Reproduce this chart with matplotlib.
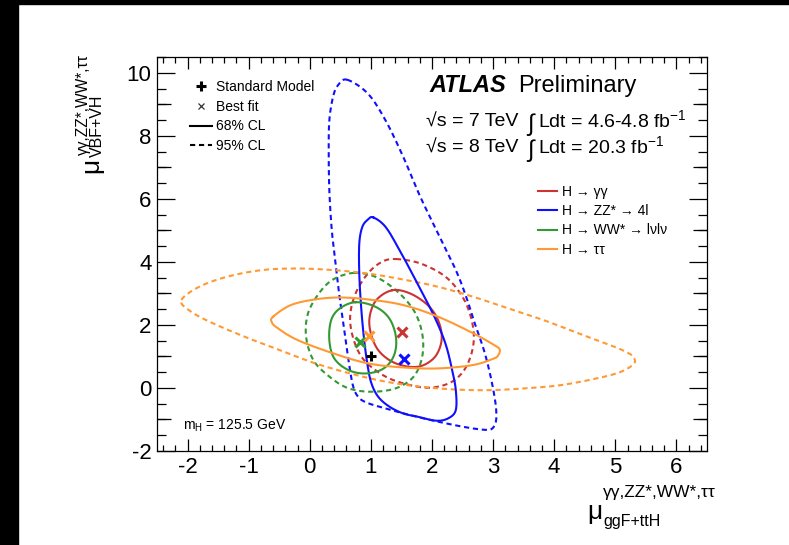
import numpy as np
import matplotlib
matplotlib.use("Agg")
import matplotlib.pyplot as plt
from matplotlib.lines import Line2D
from matplotlib.patches import Rectangle
from matplotlib.ticker import MultipleLocator, FixedLocator, NullLocator

plt.rcParams["font.family"] = ["Liberation Sans", "DejaVu Sans"]
plt.rcParams["mathtext.fontset"] = "custom"
plt.rcParams["mathtext.rm"] = "Liberation Sans"
plt.rcParams["mathtext.it"] = "Liberation Sans:italic"
plt.rcParams["mathtext.bf"] = "Liberation Sans:bold"
plt.rcParams["axes.unicode_minus"] = False

# Contours (mu_ggF+ttH, mu_VBF+VH)
# H -> gamma gamma
gg68_x = [1.35, 1.64, 1.93, 2.10, 2.16, 2.07, 1.87, 1.64, 1.35, 1.12, 1.00, 0.98, 1.09, 1.35]
gg68_y = [3.10, 3.00, 2.63, 2.15, 1.57, 1.04, 0.73, 0.67, 0.83, 1.20, 1.73, 2.26, 2.79, 3.10]
gg95_x = [1.41, 1.81, 2.22, 2.50, 2.65, 2.68, 2.56, 2.33, 1.99, 1.64, 1.24, 0.89, 0.72, 0.66,
          0.75, 0.95, 1.18, 1.41]
gg95_y = [4.09, 3.95, 3.53, 2.89, 2.15, 1.41, 0.67, 0.20, 0.01, 0.09, 0.36, 0.88, 1.52, 2.26,
          3.00, 3.63, 4.00, 4.09]

# H -> ZZ* -> 4l
zz68_x = [1.04, 1.24, 1.47, 1.76, 2.04, 2.22, 2.33, 2.39, 2.39, 2.27, 2.07, 1.76, 1.53, 1.30,
          1.12, 1.01, 0.95, 0.89, 0.84, 0.81, 0.81, 0.86, 0.95, 1.04]
zz68_y = [5.41, 5.11, 4.37, 3.32, 2.26, 1.41, 0.57, -0.07, -0.70, -0.96, -1.04, -0.91, -0.81,
          -0.59, -0.28, 0.14, 0.67, 1.52, 2.58, 3.63, 4.58, 5.11, 5.34, 5.41]
zz95_x = [0.61, 0.95, 1.24, 1.53, 1.81, 2.10, 2.39, 2.56, 2.70, 2.85, 2.96, 3.04, 3.05, 2.99,
          2.88, 2.56, 2.10, 1.64, 1.24, 0.95, 0.80, 0.71, 0.64, 0.56, 0.48, 0.42, 0.36, 0.32,
          0.31, 0.32, 0.38, 0.46, 0.61]
zz95_y = [9.78, 9.34, 8.49, 7.33, 6.06, 4.90, 3.74, 2.89, 2.05, 1.20, 0.36, -0.49, -1.02, -1.28,
          -1.33, -1.25, -1.07, -0.86, -0.65, -0.48, -0.30, 0.05, 0.80, 1.90, 3.00, 4.00, 5.01,
          6.27, 7.54, 8.49, 9.23, 9.60, 9.78]

# H -> WW* -> lvlv
ww68_x = [0.75, 1.07, 1.30, 1.41, 1.38, 1.21, 0.92, 0.63, 0.40, 0.32, 0.35, 0.49, 0.75]
ww68_y = [2.72, 2.58, 2.21, 1.62, 1.04, 0.62, 0.46, 0.57, 0.94, 1.52, 2.15, 2.52, 2.72]
ww95_x = [0.72, 1.07, 1.41, 1.70, 1.84, 1.84, 1.70, 1.41, 1.01, 0.63, 0.32, 0.06, -0.06, -0.03,
          0.15, 0.38, 0.72]
ww95_y = [3.65, 3.53, 3.10, 2.47, 1.73, 0.99, 0.36, -0.01, -0.12, -0.01, 0.36, 0.88, 1.62, 2.36,
          3.00, 3.44, 3.65]

# H -> tau tau
tt68_x = [-0.60, -0.31, 0.09, 0.49, 0.95, 1.53, 2.10, 2.68, 3.02, 3.10, 3.11, 3.08, 3.02, 2.68,
          2.10, 1.53, 0.95, 0.38, -0.20, -0.52, -0.62, -0.60]
tt68_y = [2.26, 2.63, 2.81, 2.87, 2.81, 2.63, 2.26, 1.73, 1.36, 1.25, 1.15, 1.03, 0.94, 0.73,
          0.62, 0.65, 0.78, 1.10, 1.52, 1.89, 2.08, 2.26]
tt95_x = [-2.10, -1.81, -1.35, -0.78, -0.20, 0.38, 0.95, 1.53, 2.10, 2.68, 3.25, 3.83, 4.40,
          4.98, 5.20, 5.29, 5.31, 5.09, 4.69, 4.11, 3.54, 2.96, 2.39, 1.81, 1.24, 0.66, 0.09,
          -0.49, -1.06, -1.64, -1.98, -2.10]
tt95_y = [2.79, 3.21, 3.53, 3.74, 3.79, 3.74, 3.63, 3.44, 3.21, 2.89, 2.52, 2.15, 1.73, 1.31,
          1.12, 0.99, 0.78, 0.51, 0.30, 0.09, -0.01, -0.07, -0.05, 0.04, 0.20, 0.46, 0.78, 1.20,
          1.62, 2.10, 2.47, 2.79]

# best fit points and Standard Model
best_x = [1.51, 1.54, 0.82, 0.97]
best_y = [1.78, 0.93, 1.47, 1.65]
sm_x, sm_y = [1.0], [1.0]

colors = ["#cc3333", "#1010ff", "#339933", "#ff9933"]
labels = ["H \u2192 \u03b3\u03b3",
          "H \u2192 ZZ* \u2192 4l",
          "H \u2192 WW* \u2192 l\u03bdl\u03bd",
          "H \u2192 \u03c4\u03c4"]

contours68 = [(gg68_x, gg68_y), (zz68_x, zz68_y), (ww68_x, ww68_y), (tt68_x, tt68_y)]
contours95 = [(gg95_x, gg95_y), (zz95_x, zz95_y), (ww95_x, ww95_y), (tt95_x, tt95_y)]


def smooth_closed(xs, ys, n=10):
    # draw a closed Catmull-Rom curve through the read points
    pts = np.column_stack([xs[:-1], ys[:-1]])
    P = np.vstack([pts[-1], pts, pts[0], pts[1]])
    t = np.linspace(0, 1, n, endpoint=False)[:, None]
    out = []
    for i in range(1, len(P) - 2):
        p0, p1, p2, p3 = P[i - 1], P[i], P[i + 1], P[i + 2]
        out.append(0.5 * (2 * p1 + (p2 - p0) * t + (2 * p0 - 5 * p1 + 4 * p2 - p3) * t ** 2
                          + (3 * p1 - p0 - 3 * p2 + p3) * t ** 3))
    out.append(pts[:1])
    out = np.vstack(out)
    return out[:, 0], out[:, 1]


fig = plt.figure(figsize=(7.89, 5.45), dpi=100)
ax = fig.add_axes([0.199, 0.1725, 0.697, 0.7229])

dash = (0, (2.5, 1.8))
for (cx, cy), c in zip(contours95, colors):
    ax.plot(*smooth_closed(cx, cy), color=c, lw=1.5, ls=dash)
for (cx, cy), c in zip(contours68, colors):
    ax.plot(*smooth_closed(cx, cy), color=c, lw=1.5)
for bx, by, c in zip(best_x, best_y, colors):
    ax.plot(bx, by, marker="x", color=c, ms=6.5, mew=2.2, ls="none")
ax.plot(sm_x, sm_y, marker="+", color="black", ms=7, mew=2.2, ls="none")

ax.set_xlim(-2.5, 6.5)
ax.set_ylim(-2, 10.5)
ax.xaxis.set_major_locator(MultipleLocator(1))
ax.xaxis.set_minor_locator(MultipleLocator(0.2))
ax.yaxis.set_major_locator(MultipleLocator(2))
ax.yaxis.set_minor_locator(MultipleLocator(0.5))
ax.tick_params(which="both", direction="in", top=True, right=True, width=0.9, labelsize=16)
ax.tick_params(axis="x", which="major", length=8.5, pad=4)
ax.tick_params(axis="x", which="minor", length=4.5)
ax.tick_params(axis="y", which="major", length=13, pad=4)
ax.tick_params(axis="y", which="minor", length=6.5)
for s in ax.spines.values():
    s.set_linewidth(0.9)

# middle-length ticks at odd integers on the y axis
for side in ["left", "right"]:
    sec = ax.secondary_yaxis(side)
    sec.yaxis.set_major_locator(FixedLocator([-1, 1, 3, 5, 7, 9]))
    sec.yaxis.set_minor_locator(NullLocator())
    sec.tick_params(direction="in", length=10, width=0.9, labelleft=False, labelright=False)
    for s in sec.spines.values():
        s.set_visible(False)

# axis titles, built ROOT-like from a big mu with separate super/subscripts
px = lambda x: (x - 157) / 550
py = lambda y: (451 - y) / 394
sup = "\u03b3\u03b3,ZZ*,WW*,\u03c4\u03c4"
ax.text(px(587), py(519), "\u03bc", transform=ax.transAxes, fontsize=19, va="baseline")
ax.text(px(603), py(497), sup, transform=ax.transAxes, fontsize=12.5, va="baseline")
ax.text(px(603), py(526), "ggF+ttH", transform=ax.transAxes, fontsize=11.5, va="baseline")

ax.text(px(91), py(173), "\u03bc", transform=ax.transAxes, fontsize=19, rotation=90,
        ha="center", va="bottom")
ax.text(px(83), py(155), sup, transform=ax.transAxes, fontsize=11.2, rotation=90,
        ha="center", va="bottom")
ax.text(px(97), py(157), "VBF+VH", transform=ax.transAxes, fontsize=11.5, rotation=90,
        ha="center", va="bottom")

# ATLAS label and lumi text
ax.text(0.496, 0.911, "ATLAS", transform=ax.transAxes, fontsize=17,
        fontweight="bold", fontstyle="italic")
ax.text(0.656, 0.911, "Preliminary", transform=ax.transAxes, fontsize=17)
ax.text(0.49, 0.822, "\u221as = 7 TeV", transform=ax.transAxes, fontsize=14)
ax.text(0.671, 0.812, r"$\int$", transform=ax.transAxes, fontsize=17)
ax.text(0.692, 0.822, "Ldt = 4.6-4.8 fb$^{-1}$", transform=ax.transAxes, fontsize=14)
ax.text(0.49, 0.756, "\u221as = 8 TeV", transform=ax.transAxes, fontsize=14)
ax.text(0.671, 0.746, r"$\int$", transform=ax.transAxes, fontsize=17)
ax.text(0.692, 0.756, "Ldt = 20.3 fb$^{-1}$", transform=ax.transAxes, fontsize=14)
ax.text(0.047, 0.055, r"m$_{\mathrm{H}}$ = 125.5 GeV", transform=ax.transAxes, fontsize=10)

# legend for markers and line styles
style_handles = [
    Line2D([], [], marker="+", color="black", ms=7, mew=2.2, ls="none"),
    Line2D([], [], marker="x", color="#333333", ms=5, mew=0.9, ls="none"),
    Line2D([], [], color="black", lw=1.5),
    Line2D([], [], color="black", lw=1.5, ls=dash),
]
leg1 = ax.legend(style_handles, ["Standard Model", "Best fit", "68% CL", "95% CL"],
                 loc="upper left", bbox_to_anchor=(0.042, 0.967), frameon=False,
                 fontsize=10, handlelength=1.6, handletextpad=0.3, labelspacing=0.42,
                 borderpad=0.2)
ax.add_artist(leg1)

# legend for channels
chan_handles = [Line2D([], [], color=c, lw=1.5) for c in colors]
ax.legend(chan_handles, labels, loc="upper left", bbox_to_anchor=(0.675, 0.7),
          frameon=False, fontsize=10, handlelength=1.4, handletextpad=0.3, labelspacing=0.38,
          borderpad=0.2)

# black frame bands of the screenshot
fig.patches.append(Rectangle((0, 0), 18 / 789, 1, transform=fig.transFigure,
                             color="black", zorder=10))
fig.patches.append(Rectangle((0, 1 - 4 / 545), 1, 4 / 545, transform=fig.transFigure,
                             color="black", zorder=10))

fig.savefig("out.png", dpi=100)
